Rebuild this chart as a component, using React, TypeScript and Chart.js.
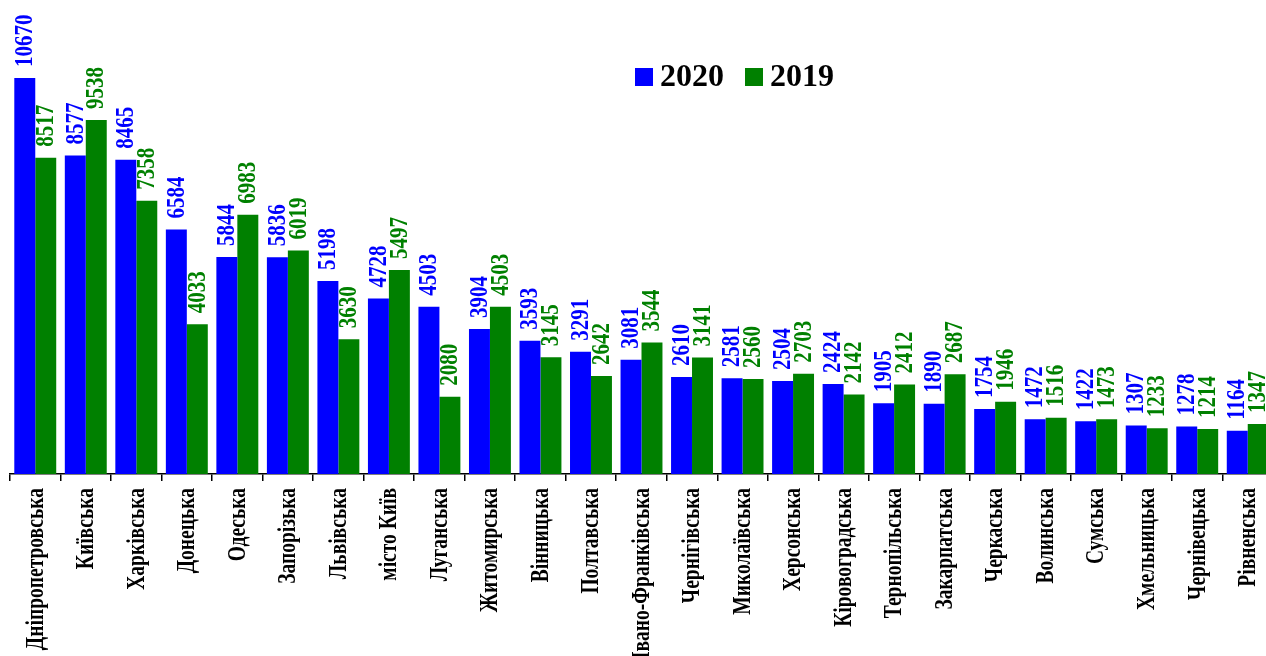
import React, { useEffect, useRef } from "react";
import { Chart, registerables } from "chart.js";

Chart.register(...registerables);

const categories = [
  "Дніпропетровська", "Київська", "Харківська", "Донецька", "Одеська", "Запорізька",
  "Львівська", "місто Київ", "Луганська", "Житомирська", "Вінницька", "Полтавська",
  "Івано-Франківська", "Чернігівська", "Миколаївська", "Херсонська", "Кіровоградська",
  "Тернопільська", "Закарпатська", "Черкаська", "Волинська", "Сумська", "Хмельницька",
  "Чернівецька", "Рівненська",
];

const values2020 = [
  10670, 8577, 8465, 6584, 5844, 5836, 5198, 4728, 4503, 3904, 3593, 3291, 3081,
  2610, 2581, 2504, 2424, 1905, 1890, 1754, 1472, 1422, 1307, 1278, 1164,
];

const values2019 = [
  8517, 9538, 7358, 4033, 6983, 6019, 3630, 5497, 2080, 4503, 3145, 2642, 3544,
  3141, 2560, 2703, 2142, 2412, 2687, 1946, 1516, 1473, 1233, 1214, 1347,
];

const seriesNames = ["2020", "2019"];
const seriesColors = ["#0000FF", "#008000"];
const FONT = "'Liberation Serif', 'Times New Roman', serif";

const valueLabels = {
  id: "valueLabels",
  afterDatasetsDraw(chart: any) {
    const ctx = chart.ctx;
    ctx.save();
    ctx.font = `bold 21px ${FONT}`;
    ctx.textAlign = "left";
    ctx.textBaseline = "middle";
    chart.data.datasets.forEach((ds: any, di: number) => {
      const meta = chart.getDatasetMeta(di);
      ctx.fillStyle = seriesColors[di];
      meta.data.forEach((bar: any, i: number) => {
        ctx.save();
        ctx.translate(bar.x + 1, bar.y - 11);
        ctx.rotate(-Math.PI / 2);
        ctx.scale(1, 1.15);
        ctx.fillText(String(ds.data[i]), 0, 0);
        ctx.restore();
      });
    });
    ctx.restore();
  },
};

const categoryLabels = {
  id: "categoryLabels",
  afterDraw(chart: any) {
    const ctx = chart.ctx;
    const xScale = chart.scales.x;
    ctx.save();
    ctx.font = `bold 19.5px ${FONT}`;
    ctx.textAlign = "right";
    ctx.textBaseline = "middle";
    ctx.fillStyle = "#000";
    (chart.data.labels as string[]).forEach((label, i) => {
      const x = xScale.getPixelForTick(i);
      ctx.save();
      ctx.translate(x + 1, xScale.top + 14);
      ctx.rotate(-Math.PI / 2);
      ctx.scale(1, 1.25);
      ctx.fillText(label, 0, 0);
      ctx.restore();
    });
    ctx.restore();
  },
};

const customLegend = {
  id: "customLegend",
  afterDraw(chart: any) {
    const ctx = chart.ctx;
    ctx.save();
    ctx.font = `bold 32px ${FONT}`;
    ctx.textBaseline = "middle";
    ctx.textAlign = "left";
    let x = 635;
    const y = 77;
    seriesNames.forEach((name, i) => {
      ctx.fillStyle = seriesColors[i];
      ctx.fillRect(x, y - 9, 18, 18);
      ctx.fillStyle = "#000";
      ctx.fillText(name, x + 25, y + 1);
      x += 110;
    });
    ctx.restore();
  },
};

export default function App() {
  const ref = useRef<HTMLCanvasElement>(null);
  useEffect(() => {
    const chart = new Chart(ref.current as HTMLCanvasElement, {
      type: "bar",
      data: {
        labels: categories,
        datasets: [
          { label: seriesNames[0], data: values2020, backgroundColor: seriesColors[0], borderWidth: 0 },
          { label: seriesNames[1], data: values2019, backgroundColor: seriesColors[1], borderWidth: 0 },
        ],
      },
      options: {
        animation: false,
        responsive: false,
        devicePixelRatio: 1,
        layout: { padding: { left: 10, right: 3, top: 10, bottom: 0 } },
        datasets: { bar: { categoryPercentage: 0.83, barPercentage: 1.0 } },
        plugins: { legend: { display: false }, tooltip: { enabled: false } },
        scales: {
          x: {
            offset: true,
            grid: {
              offset: true,
              drawOnChartArea: false,
              drawTicks: true,
              tickLength: 7,
              color: "#000",
              lineWidth: 1.5,
            },
            border: { display: true, color: "#000", width: 1.5 },
            ticks: {
              display: false,
              autoSkip: false,
            },
            afterFit(scale: any) {
              scale.height = 182;
            },
          },
          y: {
            display: false,
            min: 0,
            max: 12500,
          },
        },
      },
      plugins: [valueLabels, categoryLabels, customLegend],
    } as any);
    return () => chart.destroy();
  }, []);
  return (
    <div style={{ position: "absolute", left: 0, top: 0, width: 1266, height: 656, overflow: "hidden", background: "#fff" }}>
      <canvas ref={ref} width={1276} height={656} style={{ display: "block" }} />
    </div>
  );
}
